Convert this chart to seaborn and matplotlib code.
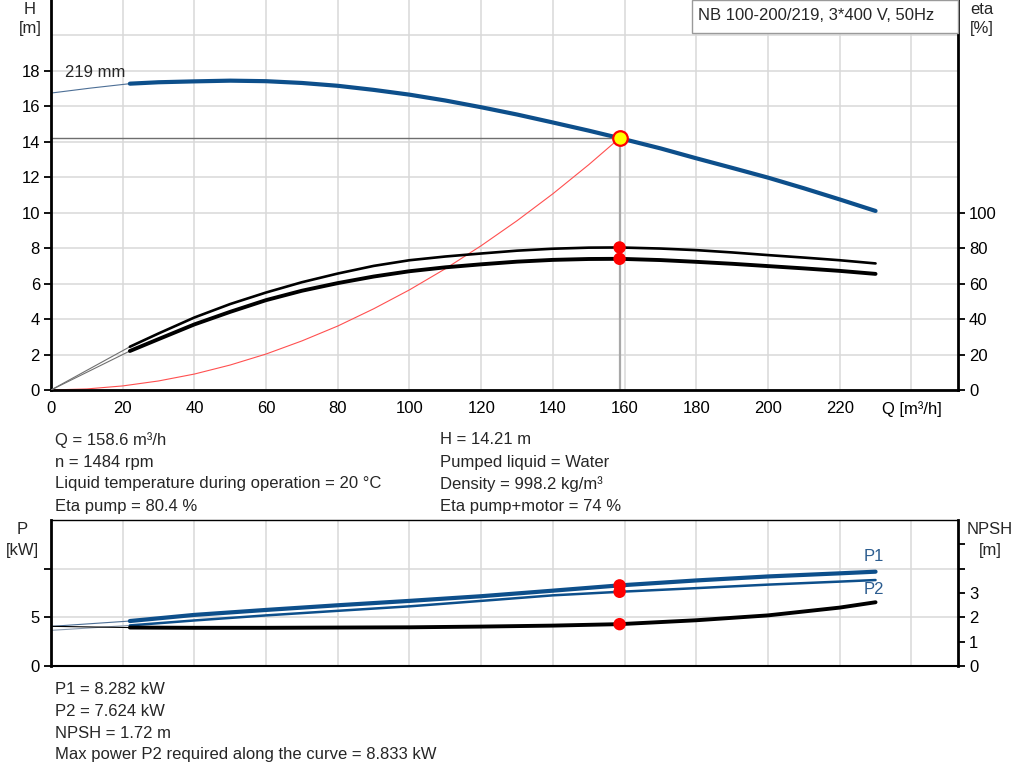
import matplotlib
matplotlib.use("Agg")
import matplotlib.pyplot as plt
import matplotlib.patches as mpatches
import seaborn as sns

# ---------------- data ----------------
q_h = [22, 30, 40, 50, 60, 70, 80, 90, 100, 110, 120, 130, 140, 150, 158.6,
       170, 180, 190, 200, 210, 220, 230]
h_vals = [17.28, 17.36, 17.41, 17.45, 17.42, 17.32, 17.16, 16.93, 16.66, 16.33,
          15.95, 15.54, 15.09, 14.63, 14.21, 13.63, 13.07, 12.53, 11.98, 11.38,
          10.75, 10.10]
q_h_ext = [0, 11, 22]
h_ext = [16.75, 17.03, 17.28]

q_eta = [22, 30, 40, 50, 60, 70, 80, 90, 100, 110, 120, 130, 140, 150, 158.6,
         170, 180, 190, 200, 210, 220, 230]
eta_pump = [24.4, 31.9, 40.9, 48.5, 55.0, 60.8, 65.7, 70.0, 73.2, 75.3, 77.0,
            78.6, 79.7, 80.3, 80.4, 79.8, 78.9, 77.6, 76.1, 74.7, 73.2, 71.4]
eta_total = [22.0, 28.7, 37.0, 44.1, 50.7, 56.0, 60.3, 64.0, 67.0, 69.2, 70.9,
             72.4, 73.4, 73.9, 74.0, 73.3, 72.3, 71.2, 69.9, 68.6, 67.2, 65.5]
q_eta_ext = [0, 22]
eta_pump_ext = [0, 24.4]
eta_total_ext = [0, 22.0]

q_sys = [0, 10, 20, 30, 40, 50, 60, 70, 80, 90, 100, 110, 120, 130, 140, 150, 158.6]
h_sys = [0, 0.06, 0.23, 0.51, 0.90, 1.41, 2.03, 2.77, 3.61, 4.58, 5.65, 6.84,
         8.14, 9.55, 11.07, 12.71, 14.21]

q_p = [22, 40, 60, 80, 100, 120, 140, 158.6, 180, 200, 220, 230]
p1_vals = [4.62, 5.25, 5.76, 6.24, 6.69, 7.17, 7.74, 8.282, 8.79, 9.20, 9.52, 9.69]
p2_vals = [4.17, 4.68, 5.20, 5.67, 6.13, 6.69, 7.26, 7.624, 8.00, 8.36, 8.67, 8.833]
npsh_vals = [1.58, 1.57, 1.57, 1.58, 1.59, 1.62, 1.66, 1.72, 1.88, 2.08, 2.40, 2.62]
q_p_ext = [0, 22]
p1_ext = [4.07, 4.62]
p2_ext = [3.66, 4.17]
npsh_ext = [1.63, 1.58]

q_op = 158.6
h_op = 14.21
eta_pump_op = 80.4
eta_total_op = 74.0
p1_op = 8.282
p2_op = 7.624
npsh_op = 1.72

x_ticks = [0, 20, 40, 60, 80, 100, 120, 140, 160, 180, 200, 220, 240]
x_labels = ["0", "20", "40", "60", "80", "100", "120", "140", "160", "180",
            "200", "220", "Q [m³/h]"]
h_ticks = [0, 2, 4, 6, 8, 10, 12, 14, 16, 18]
eta_ticks = [0, 20, 40, 60, 80, 100]
p_ticks = [0, 5, 10]
p_labels = ["0", "5", ""]
npsh_ticks = [0, 1, 2, 3, 4, 5]
npsh_labels = ["0", "1", "2", "3", "", ""]

title = "NB 100-200/219, 3*400 V, 50Hz"
info_left = ["Q = 158.6 m³/h", "n = 1484 rpm",
             "Liquid temperature during operation = 20 °C", "Eta pump = 80.4 %"]
info_right = ["H = 14.21 m", "Pumped liquid = Water", "Density = 998.2 kg/m³",
              "Eta pump+motor = 74 %"]
info_bottom = ["P1 = 8.282 kW", "P2 = 7.624 kW", "NPSH = 1.72 m",
               "Max power P2 required along the curve = 8.833 kW"]

# ---------------- style ----------------
sns.set_style("white")
plt.rcParams["font.family"] = ["Liberation Sans", "DejaVu Sans"]
FS = 12
BLUE = "#0d4f8b"
GRID = "#d9d9d9"

W, H = 1024, 781
fig = plt.figure(figsize=(W / 100, H / 100), dpi=100)


def fx(px):
    return px / W


def fy(py):
    return 1 - py / H


ax1 = fig.add_axes([fx(51), fy(390), fx(907), 390 / H])
ax2 = ax1.twinx()
ax3 = fig.add_axes([fx(51), fy(666), fx(907), 146 / H])
ax4 = ax3.twinx()

# ---------------- upper panel ----------------
sns.lineplot(x=q_h_ext, y=h_ext, ax=ax1, color="#4d6f96", linewidth=0.8,
             estimator=None, sort=False)
sns.lineplot(x=q_h, y=h_vals, ax=ax1, color=BLUE, linewidth=3.0,
             estimator=None, sort=False)
sns.lineplot(x=q_sys, y=h_sys, ax=ax1, color="#ff5050", linewidth=0.8,
             estimator=None, sort=False)
sns.lineplot(x=[0, q_op], y=[h_op, h_op], ax=ax1, color="#6e6e6e",
             linewidth=1.0, estimator=None, sort=False)
sns.lineplot(x=[q_op, q_op], y=[0, h_op], ax=ax1, color="#a8a8a8",
             linewidth=1.6, estimator=None, sort=False)
sns.scatterplot(x=[q_op], y=[h_op], ax=ax1, s=110, color="#ffff00",
                edgecolor="#ff0000", linewidth=1.6, zorder=6)

sns.lineplot(x=q_eta_ext, y=eta_pump_ext, ax=ax2, color="#707070", linewidth=0.8,
             estimator=None, sort=False)
sns.lineplot(x=q_eta_ext, y=eta_total_ext, ax=ax2, color="#707070", linewidth=0.8,
             estimator=None, sort=False)
sns.lineplot(x=q_eta, y=eta_pump, ax=ax2, color="black", linewidth=1.9,
             estimator=None, sort=False)
sns.lineplot(x=q_eta, y=eta_total, ax=ax2, color="black", linewidth=2.8,
             estimator=None, sort=False)
sns.scatterplot(x=[q_op, q_op], y=[eta_pump_op, eta_total_op], ax=ax2, s=80,
                color="#ff0000", edgecolor="none", zorder=6)

ax1.set_xlim(0, 253)
ax1.set_ylim(0, 22)
ax2.set_ylim(0, 220)
ax1.set_xticks(x_ticks)
ax1.set_xticklabels(x_labels)
ax1.set_yticks(h_ticks)
ax1.set_yticks([20], minor=True)
ax2.set_yticks(eta_ticks)
ax1.grid(True, which="both", color=GRID, linewidth=1.1)
ax1.set_axisbelow(True)
ax1.tick_params(axis="y", which="minor", length=0)
ax2.grid(False)
ax1.set_xlabel("")
ax1.set_ylabel("")
ax2.set_ylabel("")

for a in (ax1, ax2):
    a.tick_params(axis="both", which="major", direction="out", length=5,
                  width=1.3, labelsize=FS, colors="black", pad=3)
    a.spines["top"].set_visible(False)
ax1.spines["left"].set_linewidth(2)
ax1.spines["bottom"].set_linewidth(2)
ax2.spines["right"].set_linewidth(2)
ax2.spines["left"].set_visible(False)
ax2.spines["bottom"].set_visible(False)
for s in ("left", "bottom"):
    ax1.spines[s].set_color("black")
ax2.spines["right"].set_color("black")
ax1.spines["right"].set_visible(False)

ax1.text(4, 17.9, "219 mm", fontsize=FS, ha="left", va="center")

# ---------------- lower panel ----------------
sns.lineplot(x=q_p_ext, y=p1_ext, ax=ax3, color="#4d6f96", linewidth=0.8,
             estimator=None, sort=False)
sns.lineplot(x=q_p_ext, y=p2_ext, ax=ax3, color="#8a9bb0", linewidth=0.8,
             estimator=None, sort=False)
sns.lineplot(x=q_p, y=p1_vals, ax=ax3, color=BLUE, linewidth=3.0,
             estimator=None, sort=False)
sns.lineplot(x=q_p, y=p2_vals, ax=ax3, color=BLUE, linewidth=1.8,
             estimator=None, sort=False)
sns.scatterplot(x=[q_op, q_op], y=[p1_op, p2_op], ax=ax3, s=80,
                color="#ff0000", edgecolor="none", zorder=6)

sns.lineplot(x=q_p_ext, y=npsh_ext, ax=ax4, color="black", linewidth=0.8,
             estimator=None, sort=False)
sns.lineplot(x=q_p, y=npsh_vals, ax=ax4, color="black", linewidth=2.8,
             estimator=None, sort=False)
sns.scatterplot(x=[q_op], y=[npsh_op], ax=ax4, s=80, color="#ff0000",
                edgecolor="none", zorder=6)

ax3.set_xlim(0, 253)
ax3.set_ylim(0, 15)
ax4.set_ylim(0, 6)
ax3.set_xticks(x_ticks)
ax3.set_xticklabels([])
ax3.set_yticks(p_ticks)
ax3.set_yticklabels(p_labels)
ax4.set_yticks(npsh_ticks)
ax4.set_yticklabels(npsh_labels)
ax3.grid(True, color=GRID, linewidth=1.1)
ax3.set_axisbelow(True)
ax4.grid(False)
ax3.set_xlabel("")
ax3.set_ylabel("")
ax4.set_ylabel("")
for a in (ax3, ax4):
    a.tick_params(axis="y", which="major", direction="out", length=5,
                  width=1.3, labelsize=FS, colors="black", pad=3)
ax3.tick_params(axis="x", length=0)
for s in ("left", "bottom", "top", "right"):
    ax3.spines[s].set_color("black")
ax3.spines["left"].set_linewidth(2)
ax3.spines["top"].set_linewidth(1)
ax3.spines["bottom"].set_linewidth(1.5)
ax3.spines["right"].set_visible(False)
ax4.spines["right"].set_linewidth(2)
ax4.spines["right"].set_color("black")
for s in ("left", "top", "bottom"):
    ax4.spines[s].set_visible(False)

ax3.text(229.5, 11.27, "P1", fontsize=FS, color="#2b5c8f", ha="center", va="center")
ax3.text(229.5, 7.86, "P2", fontsize=FS, color="#2b5c8f", ha="center", va="center")

# ---------------- figure texts ----------------
fig.text(fx(30), fy(9), "H", fontsize=FS, ha="center", va="center")
fig.text(fx(30), fy(29), "[m]", fontsize=FS, ha="center", va="center")
fig.text(fx(982), fy(10), "eta", fontsize=FS, ha="center", va="center")
fig.text(fx(982), fy(29), "[%]", fontsize=FS, ha="center", va="center")
fig.text(fx(22), fy(529), "P", fontsize=FS, ha="center", va="center")
fig.text(fx(22), fy(550), "[kW]", fontsize=FS, ha="center", va="center")
fig.text(fx(990), fy(529), "NPSH", fontsize=FS, ha="center", va="center")
fig.text(fx(990), fy(550), "[m]", fontsize=FS, ha="center", va="center")

for i, t in enumerate(info_left):
    fig.text(fx(55), fy(440 + 22 * i), t, fontsize=FS, ha="left", va="center")
for i, t in enumerate(info_right):
    fig.text(fx(440), fy(440 + 22 * i), t, fontsize=FS, ha="left", va="center")
for i, t in enumerate(info_bottom):
    fig.text(fx(55), fy(689 + 22 * i), t, fontsize=FS, ha="left", va="center")

box = mpatches.Rectangle((fx(692), fy(33)), fx(958 - 692), 33 / H,
                         transform=fig.transFigure, facecolor="white",
                         edgecolor="#9a9a9a", linewidth=1.0, zorder=5)
fig.patches.append(box)
fig.text(fx(698), fy(15), title, fontsize=FS, ha="left", va="center", zorder=6)

fig.savefig("out.png", dpi=100)
